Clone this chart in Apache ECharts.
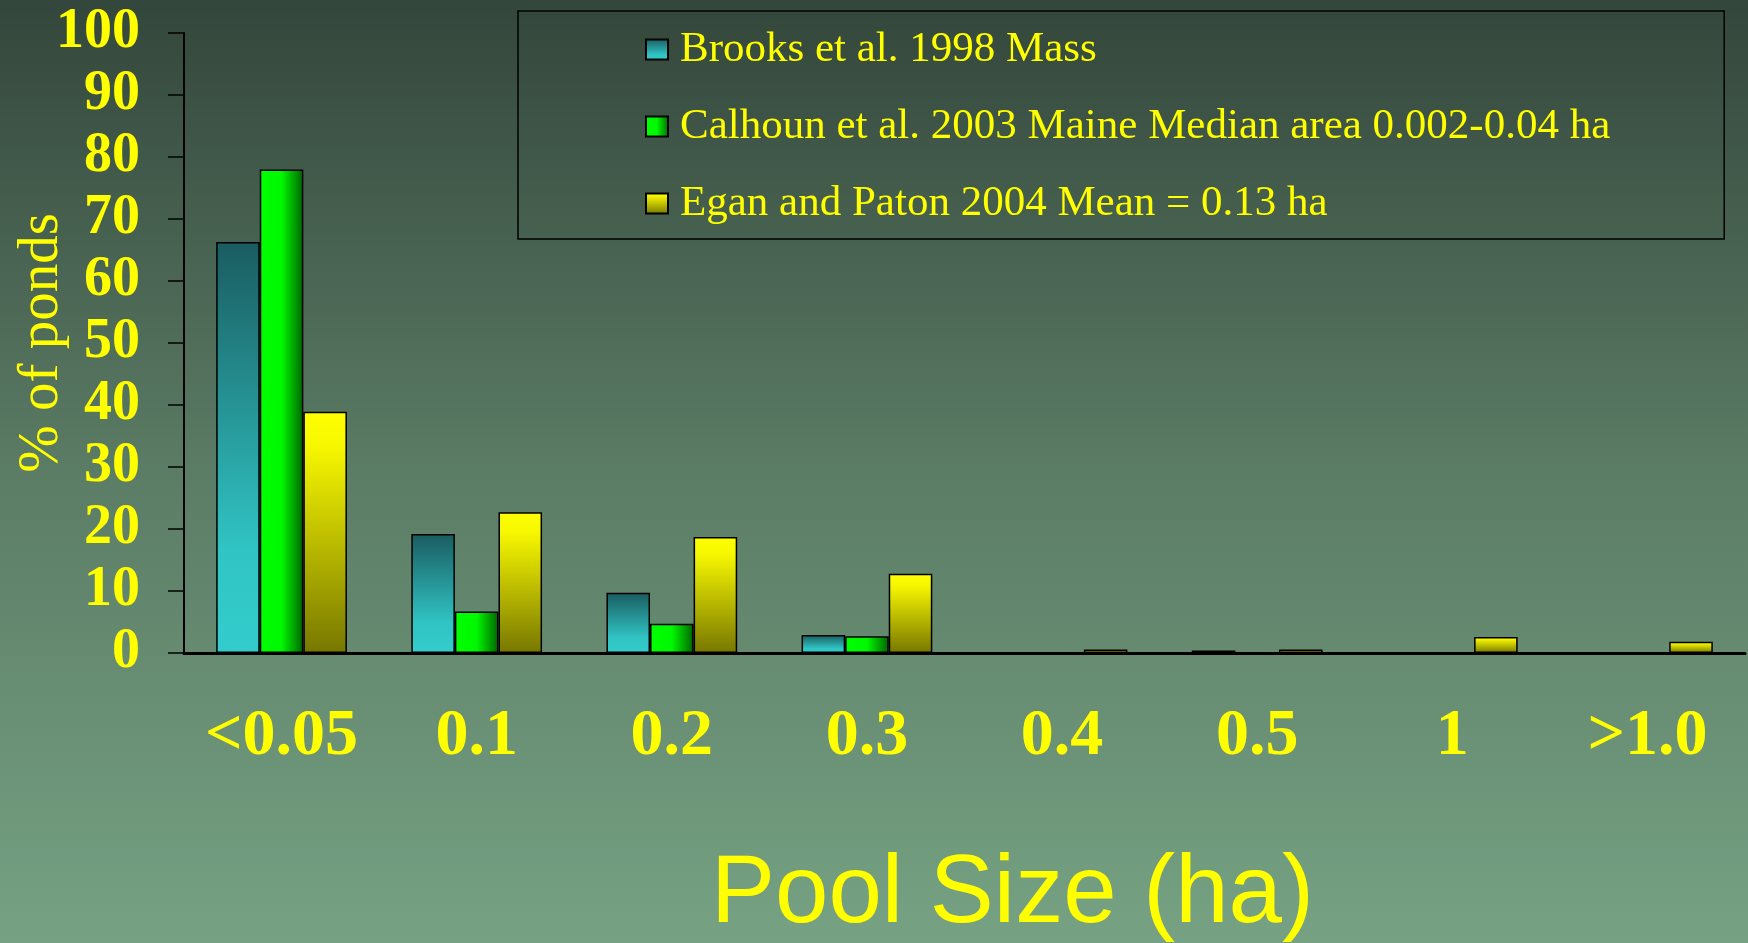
<!DOCTYPE html>
<html>
<head>
<meta charset="utf-8">
<script src="https://cdn.jsdelivr.net/npm/echarts@6/dist/echarts.min.js"></script>
<style>
  html, body { margin: 0; padding: 0; }
  #chart { width: 1748px; height: 943px; }
</style>
</head>
<body>
<div id="chart"></div>
<script>
const categories = ['<0.05', '0.1', '0.2', '0.3', '0.4', '0.5', '1', '>1.0']
const brooks = [66.3, 19.2, 9.7, 2.9, 0, 0.4, 0, 0]
const calhoun = [78, 6.7, 4.7, 2.7, 0, 0, 0, 0]
const egan = [38.9, 22.7, 18.7, 12.8, 0.55, 0.55, 2.6, 1.8]
const seriesNames = [
  'Brooks et al. 1998 Mass',
  'Calhoun et al. 2003 Maine Median area 0.002-0.04 ha',
  'Egan and Paton 2004 Mean = 0.13 ha',
]

const yellow = '#ffff00'
const serif = '"Liberation Serif", "Times New Roman", serif'

function grad(x, y, x2, y2, stops) {
  return {
    type: 'linear', x, y, x2, y2,
    colorStops: stops.map(([offset, color]) => ({ offset, color })),
  }
}

// one gradient object per bar, so each bar gets its own fill
const fills = [
  () => grad(0, 0, 0, 1, [[0, '#1a5c60'], [0.75, '#31c4c4'], [1, '#33cccc']]),
  () => grad(0, 0, 1, 0, [[0, '#00ff00'], [0.5, '#00f800'], [1, '#006400']]),
  () => grad(0, 0, 0, 1, [[0, '#ffff00'], [0.15, '#f6f600'], [1, '#777700']]),
]

const chart = echarts.init(document.getElementById('chart'))

chart.setOption({
  animation: false,
  backgroundColor: grad(0, 0, 0, 1, [[0, '#33463b'], [0.5, '#5b7c65'], [1, '#76a283']]),
  grid: { left: 184, right: 3, top: 33, bottom: 290, outerBoundsMode: 'none' },
  legend: {
    orient: 'vertical',
    left: 518,
    top: 11,
    padding: [17, 114, 14, 127],
    itemGap: 34,
    itemWidth: 22,
    itemHeight: 20,
    borderColor: '#000',
    borderWidth: 1.5,
    icon: 'rect',
    textStyle: { color: yellow, fontFamily: serif, fontSize: 43, padding: [0, 0, 0, 7] },
    data: seriesNames,
  },
  xAxis: {
    type: 'category',
    data: categories,
    axisLine: { lineStyle: { color: '#000', width: 3 } },
    axisTick: { length: 17, lineStyle: { color: '#000', width: 1.5 } },
    axisLabel: { interval: 0, color: yellow, fontFamily: serif, fontWeight: 'bold', fontSize: 66, margin: 51 },
  },
  yAxis: {
    type: 'value',
    min: 0,
    max: 100,
    interval: 10,
    name: '% of ponds',
    nameLocation: 'middle',
    nameRotate: 90,
    nameGap: 113,
    nameMoveOverlap: false,
    nameTextStyle: { color: yellow, fontFamily: serif, fontSize: 57 },
    splitLine: { show: false },
    axisLine: { show: true, lineStyle: { color: '#000', width: 2 } },
    axisTick: { show: true, length: 16, lineStyle: { color: '#000', width: 1.5 } },
    axisLabel: { color: yellow, fontFamily: serif, fontWeight: 'bold', fontSize: 56, margin: 44 },
  },
  graphic: [{
    type: 'text',
    left: 711,
    top: 848,
    style: { text: 'Pool Size (ha)', fill: yellow, font: '96px "Liberation Sans", Arial, sans-serif' },
  }],
  series: [brooks, calhoun, egan].map((values, i) => ({
    name: seriesNames[i],
    type: 'bar',
    data: values.map(v => ({ value: v, itemStyle: { color: fills[i]() } })),
    barGap: '0%',
    barCategoryGap: '33%',
    itemStyle: { color: fills[i](), borderColor: '#000', borderWidth: 1.5 },
  })),
})
</script>
</body>
</html>
